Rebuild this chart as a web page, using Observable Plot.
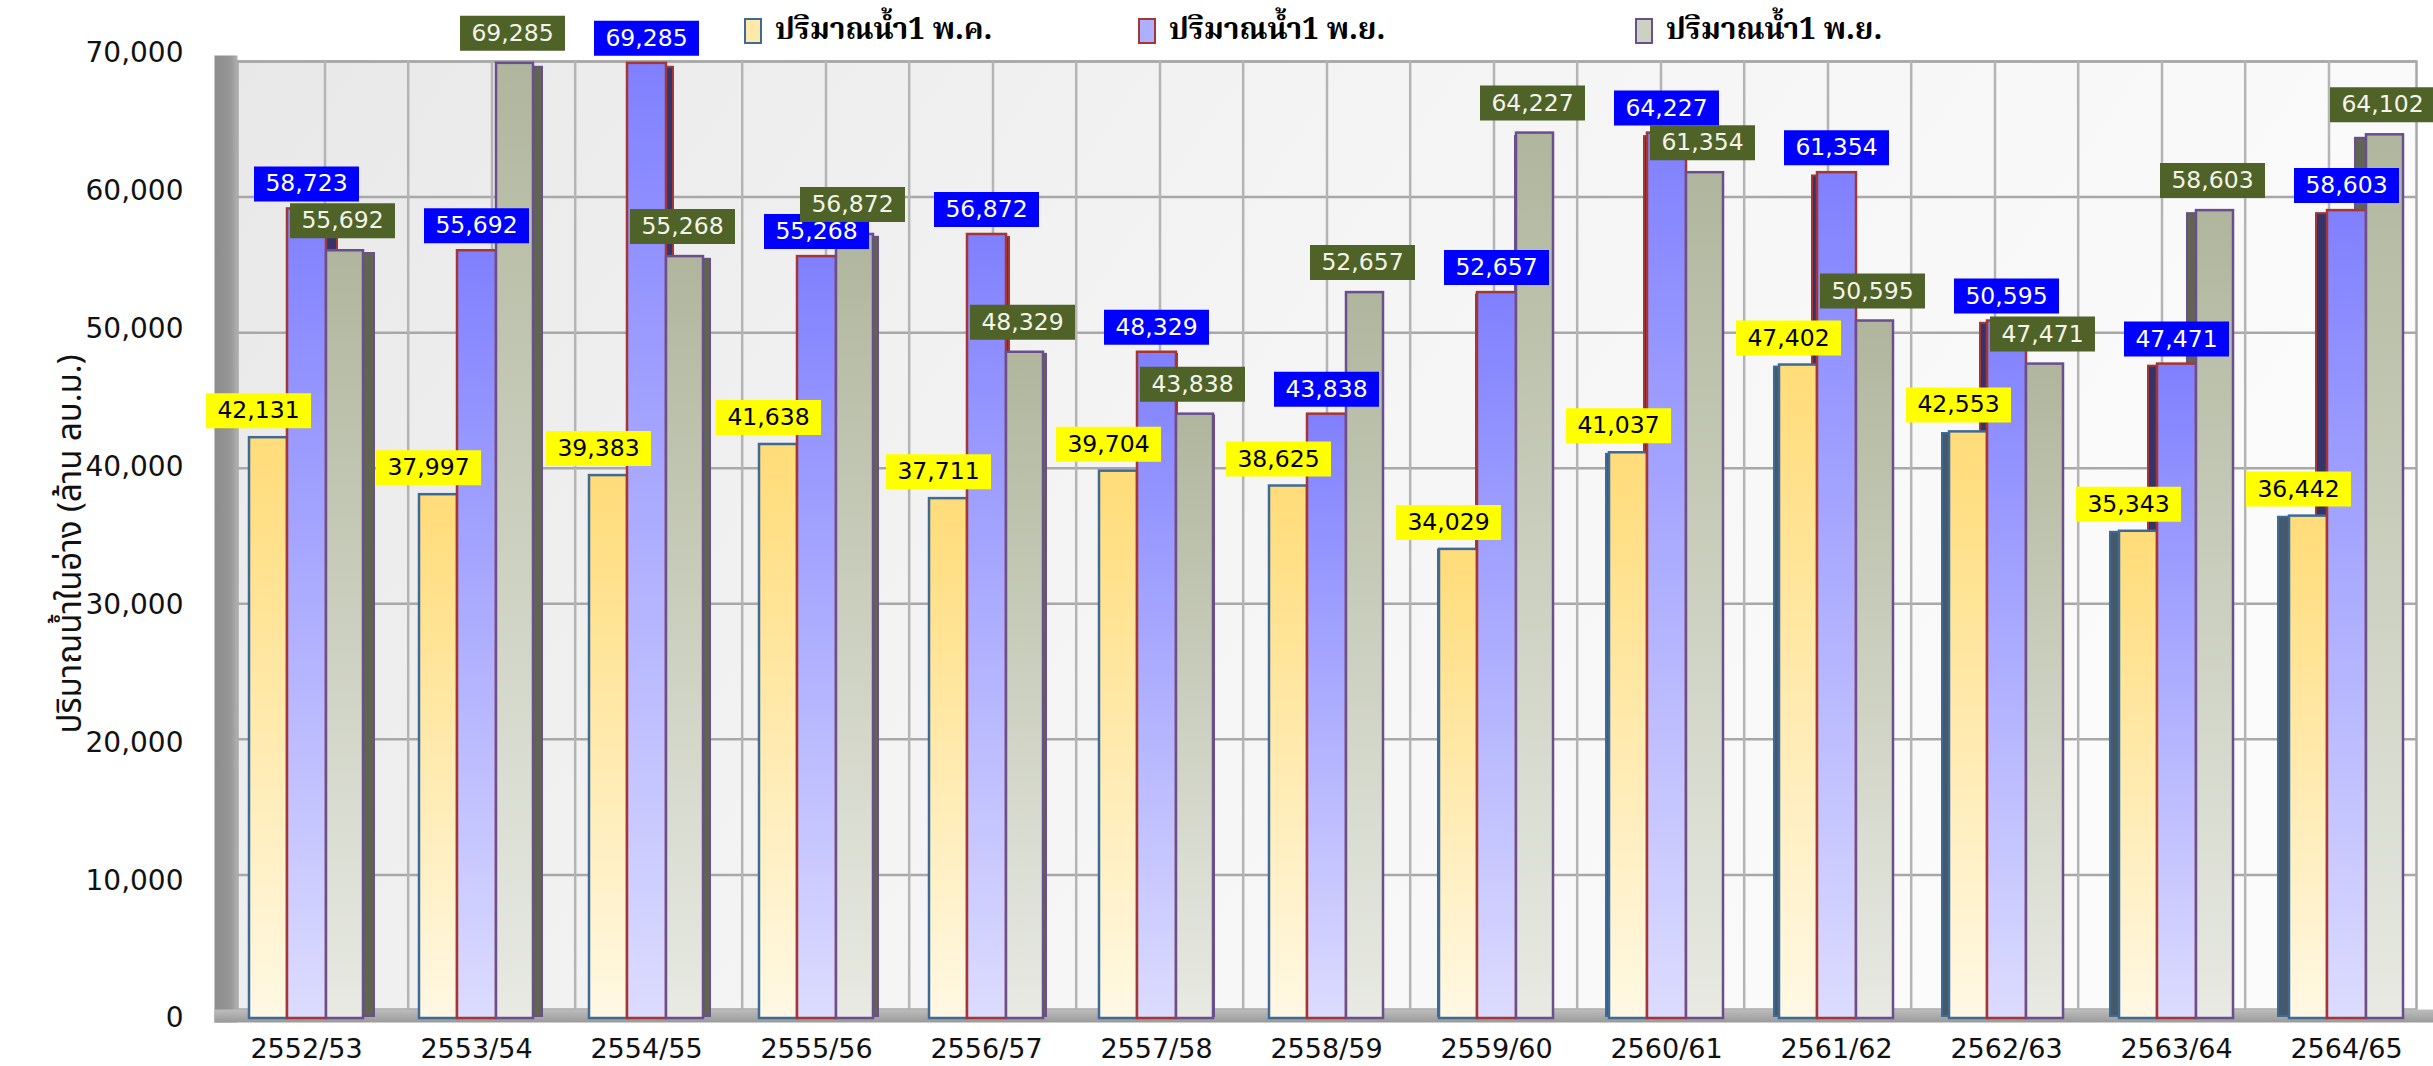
<!DOCTYPE html>
<html><head><meta charset="utf-8">
<script src="https://cdn.jsdelivr.net/npm/d3@7"></script>
<script src="https://cdn.jsdelivr.net/npm/@observablehq/plot@0.6"></script>
<style>
html,body{margin:0;padding:0;background:#fff;}
#wrap{position:relative;width:2433px;height:1066px;overflow:hidden;}
#wrap svg{position:absolute;left:0;top:0;}
#legend{position:absolute;top:0;left:0;width:2433px;height:60px;font-family:"Noto Serif Thai","Noto Sans Thai","Tahoma","DejaVu Sans",sans-serif;font-size:30px;font-weight:bold;color:#000;}
.item{position:absolute;top:11px;height:40px;display:flex;align-items:center;white-space:nowrap;}
.sw{width:18px;height:26px;border:2.5px solid;box-sizing:border-box;margin-right:13px;}
</style></head>
<body>
<svg width="0" height="0" style="position:absolute">
<defs>
 <linearGradient id="gY" x1="0" y1="0" x2="0" y2="1"><stop offset="0" stop-color="#FFDC78"/><stop offset="1" stop-color="#FFF8E4"/></linearGradient>
 <linearGradient id="gB" x1="0" y1="0" x2="0" y2="1"><stop offset="0" stop-color="#8080FF"/><stop offset="1" stop-color="#DCDCFF"/></linearGradient>
 <linearGradient id="gG" x1="0" y1="0" x2="0" y2="1"><stop offset="0" stop-color="#B0B69D"/><stop offset="1" stop-color="#E8EAE3"/></linearGradient>
 <linearGradient id="gWall" x1="0" y1="0" x2="1" y2="0.3"><stop offset="0" stop-color="#E8E8E8"/><stop offset="0.5" stop-color="#F4F4F4"/><stop offset="1" stop-color="#FBFBFB"/></linearGradient>
 <linearGradient id="gLeft" x1="0" y1="0" x2="1" y2="0"><stop offset="0" stop-color="#8C8C8C"/><stop offset="0.7" stop-color="#979797"/><stop offset="1" stop-color="#B0B0B0"/></linearGradient>
 <linearGradient id="gFloor" x1="0" y1="0" x2="0" y2="1"><stop offset="0" stop-color="#BDBDBD"/><stop offset="1" stop-color="#9A9A9A"/></linearGradient>
</defs></svg>
<div id="wrap"><div id="legend"></div></div>
<script>
// ---- data ----
const years = ["2552/53","2553/54","2554/55","2555/56","2556/57","2557/58","2558/59","2559/60","2560/61","2561/62","2562/63","2563/64","2564/65"];
const waterMay1 = [42131,37997,39383,41638,37711,39704,38625,34029,41037,47402,42553,35343,36442];
const waterNov1 = [58723,55692,69285,55268,56872,48329,43838,52657,64227,61354,50595,47471,58603];
const waterNov1b = [55692,69285,55268,56872,48329,43838,52657,64227,61354,50595,47471,58603,64102];
const seriesNames = ["ปริมาณน้ำ1  พ.ค.", "ปริมาณน้ำ1  พ.ย.", "ปริมาณน้ำ1  พ.ย."];
const yTicks = [0,10000,20000,30000,40000,50000,60000,70000];
const yTitle = "ปริมาณน้ำในอ่าง (ล้าน ลบ.ม.)";

// ---- styles ----
const W = 2433, H = 1066;
const seriesStyle = [
  {fill:"url(#gY)", stroke:"#3E6A98", side:"#46596B", bg:"#FFFF00", fg:"#000000", inL:28, inR:104, ldx:-48, ldy:-27, sw:"#FFE9A8"},
  {fill:"url(#gB)", stroke:"#A53636", side:"#34346A", bg:"#0000FF", fg:"#FFFFFF", inL:66, inR:65, ldx:0, ldy:-25, sw:"#AFAFFF"},
  {fill:"url(#gG)", stroke:"#6A4E8E", side:"#5F6552", bg:"#4F6228", fg:"#F4F4EA", inL:105, inR:28, ldx:36, ldy:-30, sw:"#CDD1C2"}
];
const allSeries = [waterMay1, waterNov1, waterNov1b];
const rows = allSeries.map((vals, s) => years.map((year, i) => ({year, value: vals[i], s})));
const fmt = d3.format(",");
const boxSymbol = {draw(ctx){ ctx.rect(-52.5, -17.5, 105, 35); }};
const font = "DejaVu Sans, Verdana, sans-serif";
const thaiFont = "Noto Sans Thai, Tahoma, DejaVu Sans, sans-serif";

// ---- layer A: walls + grid ----
const bwA = (2416 - 237) / years.length;
const layerA = Plot.plot({
  width: W, height: H, marginLeft: 214, marginRight: 0, marginTop: 51, marginBottom: 44,
  style: {background: "transparent"},
  x: {type: "band", domain: years, range: [237, 2416], padding: 0, axis: null},
  y: {domain: [0, 70000], range: [1010, 61], axis: null},
  marks: [
    Plot.frame({fill: "url(#gWall)", stroke: "#A8A8A8", strokeWidth: 2.5, insetLeft: 23, insetRight: 17, insetTop: 10, insetBottom: 13}),
    Plot.frame({fill: "url(#gLeft)", stroke: "none", insetRight: W - 214 - 23, insetTop: 4}),
    Plot.frame({fill: "url(#gFloor)", stroke: "none", insetTop: 958}),
    Plot.ruleY(yTicks.slice(1), {y: d => d, stroke: "#A8A8A8", strokeWidth: 2.5, insetLeft: 23, insetRight: 17}),
    Plot.ruleX(years, {x: d => d, stroke: "#B4B4B4", strokeWidth: 2.5, insetTop: 10, insetBottom: 13}),
    Plot.ruleX(years.slice(1), {x: d => d, dx: -bwA / 2, stroke: "#B4B4B4", strokeWidth: 2.5, insetTop: 10, insetBottom: 13})
  ]
});

// ---- layer B: bar side faces (depth) ----
const layerB = Plot.plot({
  width: W, height: H, marginLeft: 0, marginRight: 0, marginTop: 0, marginBottom: 0,
  style: {background: "transparent"},
  x: {type: "band", domain: years, range: [231, 2421], padding: 0, axis: null},
  y: {domain: [0, 70000], range: [1016, 57], axis: null},
  marks: rows.map((r, s) => Plot.barY(r, {x: "year", y: "value", fill: seriesStyle[s].side, stroke: seriesStyle[s].stroke, strokeWidth: 2, insetLeft: seriesStyle[s].inL, insetRight: seriesStyle[s].inR}))
});

// ---- layer C: front bars, labels, axes ----
const layerC = Plot.plot({
  width: W, height: H, marginLeft: 221, marginRight: 2, marginTop: 53, marginBottom: 48,
  style: {background: "transparent", fontFamily: font},
  x: {type: "band", domain: years, range: [221, 2431], padding: 0, label: null},
  y: {domain: [0, 70000], range: [1018, 53], label: null},
  marks: [
    ...rows.map((r, s) => Plot.barY(r, {x: "year", y: "value", fill: seriesStyle[s].fill, stroke: seriesStyle[s].stroke, strokeWidth: 2.5, insetLeft: seriesStyle[s].inL, insetRight: seriesStyle[s].inR})),
    Plot.axisY(yTicks, {tickSize: 0, tickPadding: 38, tickFormat: fmt, fontSize: 28, fontFamily: font, fill: "#111", label: null}),
    Plot.axisX({tickSize: 0, tickPadding: 20, fontSize: 27, fontFamily: font, fill: "#111", label: null}),
    Plot.text([yTitle], {frameAnchor: "left", textAnchor: "middle", rotate: -90, dx: -151, dy: 8, fontSize: 33, fontFamily: thaiFont, fill: "#111"}),
    ...rows.flatMap((r, s) => [
      Plot.dot(r, {x: "year", y: "value", dx: seriesStyle[s].ldx, dy: seriesStyle[s].ldy, symbol: boxSymbol, fill: seriesStyle[s].bg, stroke: "none"}),
      Plot.text(r, {x: "year", y: "value", dx: seriesStyle[s].ldx, dy: seriesStyle[s].ldy, text: d => fmt(d.value), fill: seriesStyle[s].fg, fontSize: 23.5, fontFamily: font})
    ])
  ]
});

const wrap = document.getElementById("wrap");
const legend = document.getElementById("legend");
wrap.insertBefore(layerA, legend);
wrap.insertBefore(layerB, legend);
wrap.insertBefore(layerC, legend);

// ---- legend ----
const legendLeft = [744, 1138, 1635];
seriesNames.forEach((name, s) => {
  const it = document.createElement("div");
  it.className = "item";
  it.style.left = legendLeft[s] + "px";
  const sw = document.createElement("div");
  sw.className = "sw";
  sw.style.borderColor = seriesStyle[s].stroke;
  sw.style.background = seriesStyle[s].sw;
  const tx = document.createElement("span");
  tx.textContent = name;
  it.appendChild(sw); it.appendChild(tx);
  legend.appendChild(it);
});
</script>
</body></html>
